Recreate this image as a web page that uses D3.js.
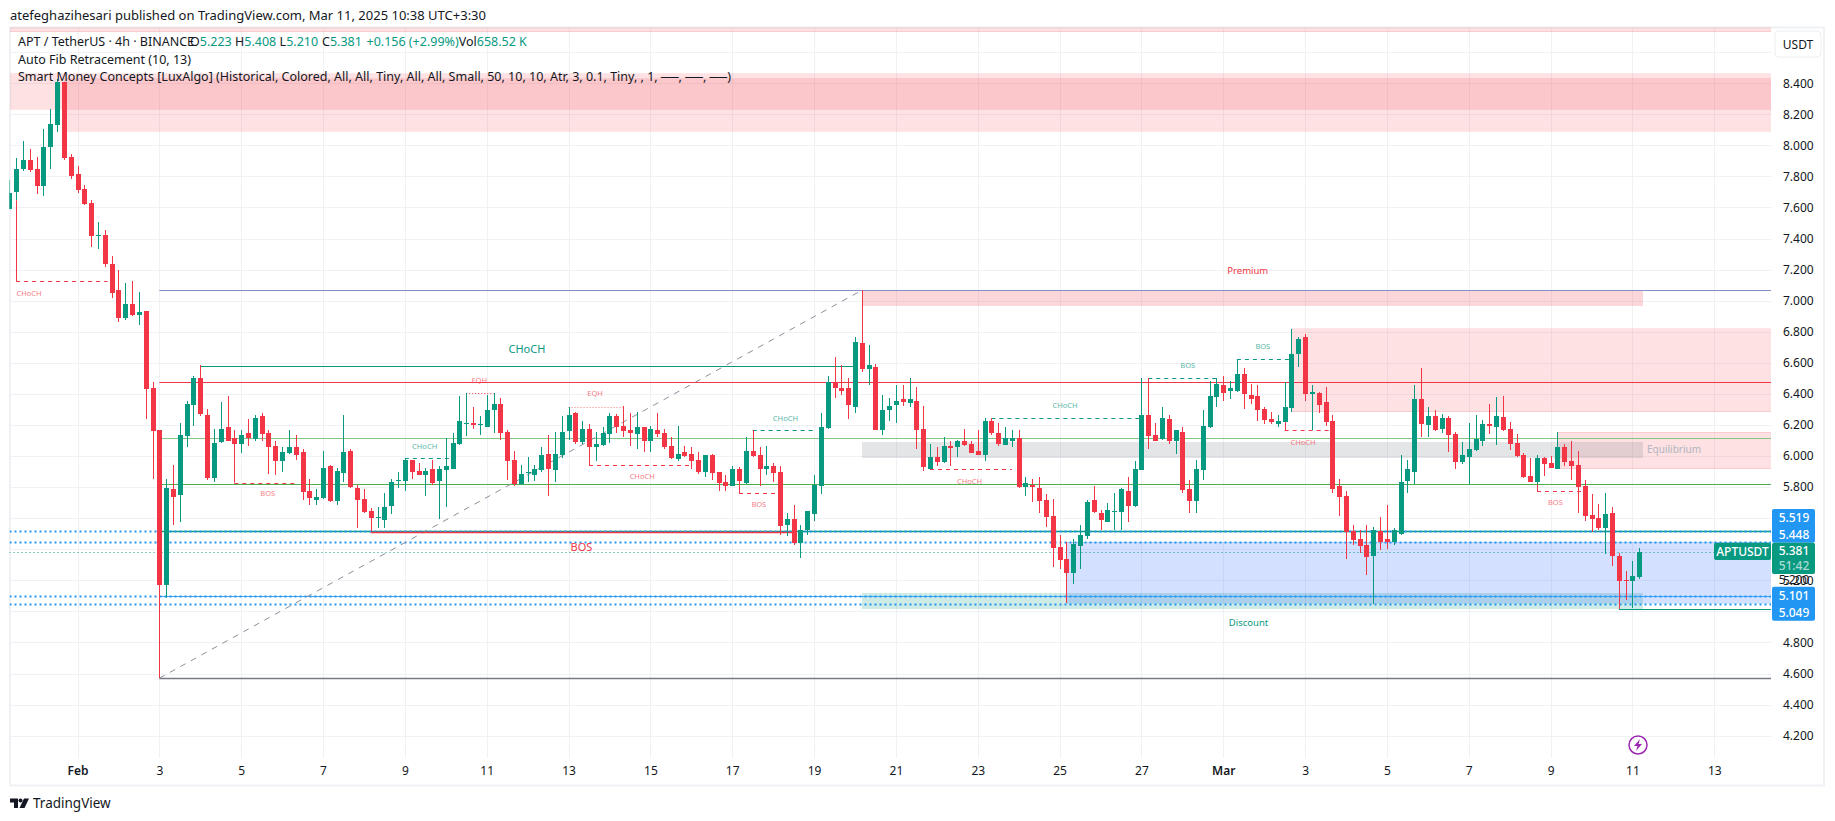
<!DOCTYPE html>
<html>
<head>
<meta charset="utf-8">
<script src="https://cdnjs.cloudflare.com/ajax/libs/d3/7.8.5/d3.min.js"></script>
<style>
  html, body { margin: 0; padding: 0; background: #fff; }
  svg { display: block; }
  text { font-family: "Noto Sans", sans-serif; }
</style>
</head>
<body>
<div id="chart"></div>
<script>
// APT / USDT 4h candles, bar 0 = Feb 1 00:00, first visible bar = -10
const firstBar = -10;
const opens = [
  7.59,7.701,7.847,7.905,7.847,7.74,7.989,8.13,8.409,7.922,
  7.815,7.718,7.628,7.416,7.422,7.235,7.068,6.888,6.978,6.907,
  6.933,6.438,6.167,5.17,5.787,5.749,6.129,6.328,6.502,6.264,
  5.858,6.09,6.187,6.116,6.077,6.148,6.109,6.257,6.148,6.064,
  5.968,6.019,6.058,6.026,5.775,5.717,5.73,5.936,5.71,5.891,
  6.032,5.794,5.723,5.646,5.601,5.588,5.678,5.839,5.839,5.974,
  5.903,5.878,5.916,5.839,5.91,5.916,6.077,6.206,6.212,6.2,
  6.187,6.296,6.335,6.154,5.974,5.82,5.891,5.878,5.91,6.013,
  5.91,6.006,6.161,6.277,6.09,6.174,6.058,6.071,6.142,6.257,
  6.193,6.167,6.142,6.187,6.097,6.167,6.148,6.064,5.981,6.026,
  6.013,5.974,5.897,6.006,5.897,5.833,5.807,5.916,5.826,6.032,
  6.006,5.916,5.935,5.897,5.556,5.594,5.44,5.523,5.626,5.807,
  6.18,6.476,6.438,6.438,6.315,6.727,6.56,6.573,6.167,6.296,
  6.328,6.367,6.341,6.354,6.174,5.916,5.993,5.961,6.064,6.058,
  6.096,6.077,6.032,6.006,6.225,6.148,6.071,6.096,6.116,5.8,
  5.813,5.794,5.717,5.614,5.414,5.337,5.247,5.42,5.485,5.717,
  5.633,5.575,5.639,5.639,5.775,5.678,5.91,6.264,6.135,6.109,
  6.238,6.096,6.154,5.787,5.71,5.91,6.186,6.38,6.457,6.418,
  6.418,6.528,6.393,6.386,6.302,6.238,6.206,6.219,6.309,6.656,
  6.766,6.399,6.405,6.347,6.225,5.807,5.742,5.517,5.465,5.427,
  5.356,5.517,5.466,5.447,5.498,5.839,5.897,6.367,6.2,6.258,
  6.174,6.245,6.142,5.962,5.994,6.039,6.097,6.206,6.187,6.251,
  6.174,6.084,6.007,5.872,5.833,5.987,5.955,5.917,6.058,5.968,
  5.942,5.807,5.62,5.601,5.537,5.633,5.357,5.202,5.196,5.223
];
const highs = [
  7.776,7.918,8.027,7.976,7.924,8.105,8.233,8.424,8.409,7.944,
  7.866,7.744,7.647,7.506,7.454,7.287,7.197,7.113,7.126,7.055,
  6.933,6.476,6.167,5.852,5.942,6.212,6.354,6.515,6.586,6.303,
  6.174,6.348,6.386,6.167,6.167,6.238,6.264,6.277,6.167,6.097,
  6.058,6.167,6.135,6.045,5.852,5.787,6.032,5.942,5.923,6.264,
  6.045,5.813,5.787,5.665,5.672,5.762,5.852,5.897,5.983,5.974,
  5.955,5.923,5.974,5.936,6.116,6.148,6.386,6.406,6.315,6.257,
  6.393,6.406,6.373,6.167,6.032,5.942,5.994,5.942,6.058,6.135,
  6.154,6.257,6.315,6.283,6.225,6.206,6.154,6.187,6.277,6.27,
  6.322,6.277,6.283,6.187,6.193,6.277,6.174,6.122,6.193,6.064,
  6.058,6.026,6.006,6.013,5.897,5.878,5.936,5.929,6.122,6.167,
  6.058,6.064,5.955,5.935,5.633,5.684,5.556,5.646,5.878,6.277,
  6.515,6.637,6.586,6.502,6.766,7.067,6.714,6.592,6.393,6.373,
  6.457,6.457,6.502,6.444,6.322,6.077,6.058,6.122,6.096,6.103,
  6.174,6.096,6.167,6.244,6.244,6.212,6.186,6.167,6.167,5.865,
  5.852,5.865,5.755,5.723,5.491,5.446,5.465,5.556,5.717,5.807,
  5.652,5.697,5.762,5.794,5.865,5.968,6.502,6.502,6.212,6.315,
  6.264,6.167,6.186,5.845,5.974,6.296,6.483,6.502,6.515,6.483,
  6.624,6.566,6.463,6.457,6.315,6.283,6.264,6.476,6.818,6.766,
  6.785,6.457,6.412,6.444,6.264,5.852,5.775,5.556,5.523,5.556,
  5.543,5.607,5.685,5.537,6.007,5.975,6.457,6.568,6.316,6.296,
  6.271,6.258,6.155,6.09,6.213,6.264,6.232,6.335,6.38,6.387,
  6.219,6.142,6.02,5.987,6.007,5.994,6.0,6.155,6.078,6.097,
  6.033,5.846,5.756,5.691,5.762,5.672,5.376,5.26,5.324,5.408
];
const lows = [
  7.59,7.647,7.834,7.828,7.686,7.673,7.847,8.085,7.905,7.783,
  7.692,7.615,7.345,7.332,7.216,7.017,6.862,6.875,6.901,6.843,
  6.238,5.852,4.57,5.088,5.556,5.575,6.058,6.193,6.257,5.845,
  5.833,6.084,6.097,6.077,6.019,6.064,6.097,6.097,5.884,5.878,
  5.897,6.013,5.974,5.717,5.684,5.684,5.723,5.704,5.684,5.833,
  5.794,5.536,5.633,5.517,5.536,5.536,5.627,5.794,5.775,5.852,
  5.878,5.742,5.813,5.594,5.672,5.916,6.071,6.129,6.174,6.135,
  6.187,6.148,6.103,5.845,5.807,5.813,5.833,5.839,5.897,5.742,
  5.833,5.987,6.103,6.077,6.077,6.058,5.968,6.064,6.084,6.148,
  6.122,6.064,6.045,6.026,6.026,6.122,6.045,5.981,5.968,5.994,
  5.916,5.884,5.865,5.845,5.775,5.775,5.807,5.813,5.82,5.994,
  5.807,5.878,5.832,5.491,5.485,5.427,5.343,5.491,5.581,5.755,
  6.174,6.373,6.393,6.238,6.277,6.541,6.457,6.167,6.135,6.225,
  6.212,6.322,6.315,6.045,5.903,5.916,5.935,5.955,5.935,5.993,
  6.064,6.019,6.006,5.968,6.135,6.064,6.071,6.058,5.794,5.742,
  5.704,5.633,5.543,5.285,5.272,5.051,5.176,5.272,5.465,5.633,
  5.523,5.575,5.523,5.523,5.575,5.671,5.91,6.045,6.096,6.103,
  6.077,6.013,5.762,5.633,5.633,5.845,6.18,6.315,6.354,6.367,
  6.412,6.302,6.335,6.225,6.206,6.206,6.186,6.219,6.283,6.573,
  6.354,6.167,6.277,6.193,5.762,5.614,5.337,5.427,5.375,5.234,
  5.047,5.395,5.402,5.427,5.492,5.762,5.818,6.123,6.123,6.161,
  6.148,6.026,5.917,5.949,5.818,6.033,6.065,6.142,6.071,6.161,
  6.039,5.994,5.859,5.833,5.818,5.872,5.923,5.917,5.936,5.846,
  5.633,5.582,5.511,5.524,5.369,5.292,5.013,5.073,5.022,5.21
];
const closes = [
  7.695,7.847,7.905,7.841,7.74,7.989,8.137,8.409,7.918,7.802,
  7.712,7.622,7.416,7.422,7.235,7.049,6.888,6.978,6.907,6.926,
  6.433,6.161,5.17,5.794,5.736,6.135,6.335,6.502,6.27,5.858,
  6.084,6.174,6.097,6.077,6.135,6.116,6.245,6.142,6.058,5.968,
  6.026,6.058,6.006,5.768,5.73,5.736,5.923,5.71,5.903,6.026,
  5.8,5.717,5.639,5.601,5.607,5.672,5.833,5.845,5.974,5.897,
  5.878,5.903,5.826,5.916,5.936,6.084,6.225,6.212,6.2,6.206,
  6.296,6.335,6.148,5.968,5.82,5.884,5.897,5.916,6.006,5.916,
  6.013,6.154,6.264,6.09,6.174,6.058,6.077,6.148,6.257,6.187,
  6.161,6.148,6.187,6.097,6.174,6.142,6.058,5.987,6.013,6.0,
  5.968,5.897,6.006,5.891,5.826,5.807,5.916,5.839,6.032,6.0,
  5.916,5.936,5.89,5.549,5.594,5.44,5.523,5.646,5.813,6.186,
  6.476,6.438,6.418,6.328,6.734,6.56,6.586,6.167,6.296,6.322,
  6.354,6.347,6.367,6.167,5.929,5.993,5.961,6.064,6.051,6.096,
  6.071,6.019,6.006,6.225,6.148,6.077,6.116,6.116,5.8,5.826,
  5.8,5.71,5.607,5.407,5.33,5.247,5.433,5.491,5.704,5.639,
  5.588,5.652,5.646,5.787,5.678,5.916,6.264,6.129,6.096,6.244,
  6.096,6.167,5.781,5.71,5.916,6.193,6.386,6.463,6.405,6.438,
  6.528,6.399,6.367,6.296,6.232,6.219,6.225,6.315,6.656,6.753,
  6.399,6.412,6.328,6.219,5.787,5.736,5.511,5.459,5.42,5.35,
  5.523,5.446,5.447,5.524,5.833,5.917,6.367,6.206,6.258,6.168,
  6.245,6.136,5.962,6.007,6.045,6.11,6.206,6.193,6.258,6.168,
  6.078,6.0,5.865,5.833,5.987,5.949,5.923,6.058,5.962,5.936,
  5.801,5.614,5.595,5.537,5.627,5.357,5.196,5.196,5.228,5.381
];

// Axis ticks
const priceTicks = [4.2,4.4,4.6,4.8,5.0,5.2,5.4,5.6,5.8,6.0,6.2,6.4,6.6,6.8,7.0,7.2,7.4,7.6,7.8,8.0,8.2,8.4];
const priceLabels = priceTicks.filter(p => ![5.0,5.4,5.6,4.6].includes(p) || p === 4.6).filter(p => ![5.0,5.4,5.6].includes(p));
const gridPrices = priceTicks.concat([8.6]);
const timeTicks = [0,12,24,36,48,60,72,84,96,108,120,132,144,156,168,180,192,204,216,228,240];
const timeLabels = ["Feb","3","5","7","9","11","13","15","17","19","21","23","25","27","Mar","3","5","7","9","11","13"];

// Zones: [from bar, to bar, top price, bottom price] (null = runs off the chart edge)
const supplyZones = [
  [null, null, 9.2, 8.731],
  [null, null, 8.46, 8.232],
  [-2, null, 8.43, 8.09],
  [178, null, 6.818, 6.285],
  [217, null, 6.153, 5.918]
];
const premiumZone = [115, 229.5, 7.064, 6.968];
const equilibriumZone = [115, 229.5, 6.09, 5.989];
const discountZone = [115, 229.5, 5.116, 5.015];
const liquidityZone = [145, null, 5.445, 5.052];

// Long horizontal levels
const fibTop = 7.067;
const fibBottom = 4.57;
const fibStartBar = 12;
const fibEndBar = 115;
const swingHigh = 6.474;
const upperGreen = 6.114;
const lowerGreen = 5.818;
const tealLevel = 5.519;
const thinBlueLevel = 5.101;
const lowLevel = 5.013;
const lowLevelBar = 226;
const alertLevels = [5.519, 5.448, 5.101, 5.049];
const lastPrice = 5.381;

// Structure breaks: [from bar, to bar, price, text, label bar, label price]
const redBreaks = [
  [-9, 4.4, 7.125, "CHoCH", -7.1, 7.045],
  [23, 32, 5.828, "BOS", 27.9, 5.76],
  [75, 90, 5.94, "CHoCH", 82.8, 5.869],
  [97, 103, 5.76, "BOS", 99.9, 5.689],
  [125, 137, 5.914, "CHoCH", 130.8, 5.837],
  [177, 184, 6.167, "CHoCH", 179.7, 6.086],
  [214, 221, 5.773, "BOS", 216.7, 5.702]
];
const greenBreaks = [
  [48, 55, 5.985, "CHoCH", 50.9, 6.063],
  [99, 108, 6.167, "CHoCH", 103.8, 6.243],
  [134, 156, 6.242, "CHoCH", 144.8, 6.326],
  [157, 167, 6.5, "BOS", 162.8, 6.584],
  [170, 178, 6.622, "BOS", 173.8, 6.706]
];
const eqhMarks = [
  [57, 61, 6.403, "EQH", 58.9, 6.489],
  [72, 80, 6.318, "EQH", 75.9, 6.404]
];
const bigChoch = [18, 114, 6.581, "CHoCH", 65.9, 6.687];
const bigBos = [43, 105, 5.511, "BOS", 73.9, 5.416];

const legendOhlc = [["O","5.223"],["H","5.408"],["L","5.210"],["C","5.381"]];
const legendChange = "+0.156 (+2.99%)";
const legendVolume = "658.52 K";

const width = 1835, height = 821;
const plot = { left: 9.5, right: 1771, top: 27, bottom: 758 };
const red = "#f23645", green = "#089981", blue = "#2196f3", ink = "#131722";

const svg = d3.select("#chart").append("svg")
  .attr("width", width)
  .attr("height", height);

const x = d3.scaleLinear().domain([0, 240]).range([77.5, 1714.3]);
const y = d3.scaleLinear().domain([4.2, 8.4]).range([735.7, 83.2]);
const barX = b => b === null ? plot.right : x(b);

svg.append("defs").append("clipPath").attr("id", "plot-clip")
  .append("rect")
  .attr("x", plot.left).attr("y", plot.top)
  .attr("width", plot.right - plot.left).attr("height", plot.bottom - plot.top);

// Outer frame
svg.append("rect")
  .attr("x", 10).attr("y", 27.5)
  .attr("width", 1814).attr("height", 758)
  .attr("fill", "none")
  .attr("stroke", "#f0f1f4")
  .attr("stroke-width", 2);

const chart = svg.append("g").attr("clip-path", "url(#plot-clip)");

// Grid through the axes
const gridColor = "#f0f1f4";
chart.append("g")
  .attr("transform", `translate(${plot.left},0)`)
  .call(d3.axisRight(y).tickValues(gridPrices).tickSize(plot.right - plot.left).tickFormat(""))
  .call(g => g.select(".domain").remove())
  .call(g => g.selectAll("line").attr("stroke", gridColor).attr("shape-rendering", "crispEdges"));

chart.append("g")
  .attr("transform", `translate(0,${plot.top})`)
  .call(d3.axisBottom(x).tickValues(timeTicks).tickSize(plot.bottom - plot.top).tickFormat(""))
  .call(g => g.select(".domain").remove())
  .call(g => g.selectAll("line").attr("stroke", gridColor).attr("shape-rendering", "crispEdges"));

// Zone rectangles
function drawZone(z, fill, stroke) {
  const x0 = z[0] === null ? plot.left : x(z[0]);
  chart.append("rect")
    .attr("x", x0)
    .attr("y", y(z[2]))
    .attr("width", barX(z[1]) - x0)
    .attr("height", y(z[3]) - y(z[2]))
    .attr("fill", fill)
    .attr("shape-rendering", "crispEdges");
  if (stroke) {
    [z[2], z[3]].forEach(p => {
      chart.append("line")
        .attr("x1", x0).attr("x2", barX(z[1]))
        .attr("y1", y(p)).attr("y2", y(p))
        .attr("stroke", stroke)
        .attr("shape-rendering", "crispEdges");
    });
  }
}
supplyZones.forEach(z => drawZone(z, "rgba(242,54,69,0.15)", "rgba(242,54,69,0.12)"));
drawZone(premiumZone, "rgba(242,54,69,0.2)");
drawZone(equilibriumZone, "rgba(120,123,134,0.2)");
drawZone(discountZone, "rgba(8,153,129,0.2)");
drawZone(liquidityZone, "rgba(41,98,255,0.2)", "rgba(33,150,243,0.2)");

// Horizontal level helper
function hLine(from, to, price, color, w, dash) {
  chart.append("line")
    .attr("x1", from === null ? plot.left : x(from))
    .attr("x2", barX(to))
    .attr("y1", Math.round(y(price)) + 0.5)
    .attr("y2", Math.round(y(price)) + 0.5)
    .attr("stroke", color)
    .attr("stroke-width", w)
    .attr("stroke-dasharray", dash || null);
}

hLine(fibStartBar, null, fibTop, "#8290c3", 1);
hLine(fibStartBar, null, swingHigh, red, 1.2);
hLine(fibStartBar, null, upperGreen, "#81c784", 1.2);
hLine(fibStartBar, null, lowerGreen, "#4caf50", 1.2);
hLine(fibStartBar, null, tealLevel, green, 1.3);
hLine(fibStartBar, null, thinBlueLevel, "#42a5f5", 1);
hLine(fibStartBar, null, fibBottom, "#787b86", 1.3);
hLine(lowLevelBar, null, lowLevel, green, 1.2);
hLine(null, null, lastPrice, green, 1, "1 3");

// Alert levels, blue dots across the chart
alertLevels.forEach(p => hLine(null, null, p, blue, 2, "2 3"));

// Fib diagonal
chart.append("line")
  .attr("x1", x(fibStartBar)).attr("y1", y(fibBottom))
  .attr("x2", x(fibEndBar)).attr("y2", y(fibTop))
  .attr("stroke", "#8c8f99")
  .attr("stroke-dasharray", "6 6");

// Big structure lines
hLine(bigChoch[0], bigChoch[1], bigChoch[2], green, 1.2);
hLine(bigBos[0], bigBos[1], bigBos[2], red, 1.6);

function smallLabel(b, color, size, opacity) {
  chart.append("text")
    .attr("x", x(b[4]))
    .attr("y", y(b[5]))
    .attr("dy", "0.35em")
    .attr("text-anchor", "middle")
    .attr("font-size", size)
    .attr("fill", color)
    .attr("opacity", opacity)
    .text(b[3]);
}

// Dashed breaks with a stem back to the swing candle
redBreaks.forEach(b => {
  hLine(b[0], b[1], b[2], red, 1, "4 4");
  const k = Math.round(b[0]) - firstBar;
  chart.append("line")
    .attr("x1", Math.round(x(b[0])) + 0.5).attr("x2", Math.round(x(b[0])) + 0.5)
    .attr("y1", y(b[2])).attr("y2", y(lows[k]))
    .attr("stroke", red);
  smallLabel(b, red, 7.5, 0.65);
});
greenBreaks.forEach(b => {
  hLine(b[0], b[1], b[2], green, 1, "4 4");
  const k = Math.round(b[0]) - firstBar;
  chart.append("line")
    .attr("x1", Math.round(x(b[0])) + 0.5).attr("x2", Math.round(x(b[0])) + 0.5)
    .attr("y1", y(b[2])).attr("y2", y(highs[k]))
    .attr("stroke", green);
  smallLabel(b, green, 7.5, 0.7);
});
eqhMarks.forEach((b, k) => {
  hLine(b[0], b[1], b[2], k === 0 ? red : "#f77c80", 1, "1 2");
  smallLabel(b, red, 7.5, 0.65);
});
smallLabel(bigChoch, green, 11, 1);
smallLabel(bigBos, red, 11, 1);

// Candles
const bars = d3.range(opens.length).map(k => ({
  bar: k + firstBar, o: opens[k], h: highs[k], l: lows[k], c: closes[k]
}));

chart.append("g").selectAll(".wick")
  .data(bars).enter().append("rect")
  .attr("class", "wick")
  .attr("x", d => Math.round(x(d.bar)))
  .attr("y", d => y(d.h))
  .attr("width", 1)
  .attr("height", d => y(d.l) - y(d.h))
  .attr("fill", d => d.c >= d.o ? green : red)
  .attr("shape-rendering", "crispEdges");

chart.append("g").selectAll(".body")
  .data(bars).enter().append("rect")
  .attr("class", "body")
  .attr("x", d => Math.round(x(d.bar)) - 2)
  .attr("y", d => y(Math.max(d.o, d.c)))
  .attr("width", 5)
  .attr("height", d => Math.max(1, Math.abs(y(d.o) - y(d.c))))
  .attr("fill", d => d.c >= d.o ? green : red)
  .attr("shape-rendering", "crispEdges");

// Zone captions
function caption(bar, price, txt, color, size) {
  chart.append("text")
    .attr("x", x(bar)).attr("y", y(price))
    .attr("dy", "0.35em")
    .attr("text-anchor", "middle")
    .attr("font-size", size)
    .attr("fill", color)
    .text(txt);
}
caption(171.6, 7.193, "Premium", red, 9.5);
caption(171.7, 4.93, "Discount", green, 9.5);
caption(234.1, 6.04, "Equilibrium", "#b2b5be", 10);

// Time axis
const timeAxis = svg.append("g")
  .attr("transform", `translate(0,${plot.bottom})`)
  .call(d3.axisBottom(x).tickValues(timeTicks).tickSize(0).tickPadding(8)
    .tickFormat((d, k) => timeLabels[k]));
timeAxis.select(".domain").remove();
timeAxis.selectAll("text")
  .attr("font-family", '"Noto Sans", sans-serif')
  .attr("font-size", 12)
  .attr("font-weight", (d, k) => isNaN(+timeLabels[k]) ? 600 : 400)
  .attr("fill", ink);

// Price axis
const priceAxis = svg.append("g")
  .attr("transform", `translate(${plot.right},0)`)
  .call(d3.axisRight(y).tickValues(priceLabels).tickSize(0).tickPadding(12)
    .tickFormat(d3.format(".3f")));
priceAxis.select(".domain").remove();
priceAxis.selectAll("text")
  .attr("font-family", '"Noto Sans", sans-serif')
  .attr("font-size", 12)
  .attr("fill", ink);

// Unit button
svg.append("rect")
  .attr("x", 1775).attr("y", 31)
  .attr("width", 46).attr("height", 26)
  .attr("rx", 4)
  .attr("fill", "#fff")
  .attr("stroke", "#eceef2");
svg.append("text")
  .attr("x", 1798).attr("y", 48.5)
  .attr("text-anchor", "middle")
  .attr("font-size", 12)
  .attr("fill", ink)
  .text("USDT");

// Price tags on the right axis
const axisBlue = [[509, 33.7], [586.7, 34]];
axisBlue.forEach(r => {
  svg.append("rect")
    .attr("x", 1772).attr("y", r[0])
    .attr("width", 43).attr("height", r[1])
    .attr("rx", 2)
    .attr("fill", blue);
});
svg.append("rect")
  .attr("x", 1772).attr("y", 542.7)
  .attr("width", 43).attr("height", 31.3)
  .attr("rx", 2)
  .attr("fill", green);
svg.append("rect")
  .attr("x", 1714).attr("y", 542.7)
  .attr("width", 57).attr("height", 17.3)
  .attr("rx", 2)
  .attr("fill", green);

function tag(txt, cx, cy, color, weight) {
  svg.append("text")
    .attr("x", cx).attr("y", cy)
    .attr("dy", "0.35em")
    .attr("text-anchor", "middle")
    .attr("font-size", 12)
    .attr("font-weight", weight || 400)
    .attr("fill", color)
    .text(txt);
}
tag("5.519", 1794, 517.3, "#fff", 500);
tag("5.448", 1794, 534.3, "#fff", 500);
tag("5.381", 1794, 550.7, "#fff", 500);
tag("51:42", 1794, 565.3, "#a8dcd2", 500);
tag("5.200", 1794, 580, ink);
tag("5.101", 1794, 595.7, "#fff", 500);
tag("5.049", 1794, 612.3, "#fff", 500);
tag("APTUSDT", 1742.5, 551.3, "#fff", 500);

// Header and legend
svg.append("text")
  .attr("x", 10).attr("y", 20)
  .attr("font-size", 13)
  .attr("fill", ink)
  .text("atefeghazihesari published on TradingView.com, Mar 11, 2025 10:38 UTC+3:30");

const legend = svg.append("g").attr("font-size", 12.5);
legend.append("text").attr("x", 18).attr("y", 46).attr("fill", ink)
  .text("APT / TetherUS · 4h · BINANCE");
const ohlcX = [190, 235, 279.6, 322];
legendOhlc.forEach((d, k) => {
  const t = legend.append("text").attr("x", ohlcX[k]).attr("y", 46).attr("fill", ink).text(d[0]);
  t.append("tspan").attr("fill", green).text(d[1]);
});
legend.append("text").attr("x", 366.5).attr("y", 46).attr("fill", green).text(legendChange);
const vol = legend.append("text").attr("x", 458.7).attr("y", 46).attr("fill", ink).text("Vol");
vol.append("tspan").attr("fill", green).text(legendVolume);
legend.append("text").attr("x", 18).attr("y", 63.5).attr("fill", ink)
  .text("Auto Fib Retracement (10, 13)");
legend.append("text").attr("x", 18).attr("y", 80.5).attr("fill", ink)
  .text("Smart Money Concepts [LuxAlgo] (Historical, Colored, All, All, Tiny, All, All, Small, 50, 10, 10, Atr, 3, 0.1, Tiny, , 1, ──, ──, ──)");

// Flash icon
const flash = svg.append("g").attr("transform", "translate(1638,745)");
flash.append("circle").attr("r", 9).attr("fill", "#fff").attr("stroke", "#9c27b0").attr("stroke-width", 1.5);
flash.append("path").attr("d", "M2,-6 L-4,1 L-0.5,1 L-2,6 L4,-1 L0.5,-1 Z").attr("fill", "#9c27b0");

// TradingView logo and name
const logo = svg.append("g").attr("fill", ink);
logo.append("path").attr("d", "M10,798.5 H18 V808 H14 V802.5 H10 Z");
logo.append("circle").attr("cx", 20.5).attr("cy", 800.5).attr("r", 2);
logo.append("path").attr("d", "M24,798.5 H29 L24.5,808 H19.5 Z");
svg.append("text")
  .attr("x", 33).attr("y", 808)
  .attr("font-size", 13.5)
  .attr("fill", ink)
  .text("TradingView");
</script>
</body>
</html>
